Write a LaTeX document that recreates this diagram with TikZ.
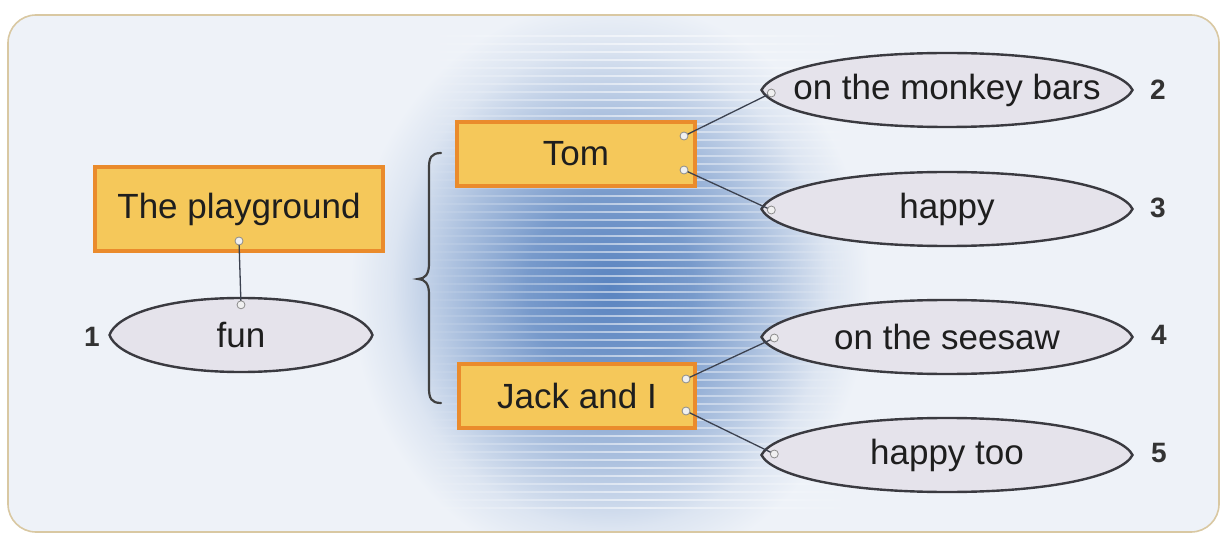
\documentclass[tikz,border=0pt]{standalone}
\usepackage{fontspec}
\setmainfont{Liberation Sans}
\usetikzlibrary{calc,fadings}
\definecolor{bgc}{HTML}{EEF2F8}
\definecolor{glowc}{HTML}{5A84C0}
\definecolor{framec}{HTML}{D9C8A2}
\definecolor{boxfill}{HTML}{F5C85A}
\definecolor{boxedge}{HTML}{EA8B2C}
\definecolor{lensfill}{HTML}{E5E3EB}
\definecolor{lensedge}{HTML}{3A3A40}
\definecolor{linec}{HTML}{3C4250}
\definecolor{numc}{HTML}{333333}
\definecolor{txtc}{HTML}{1E1E1E}
\pgfdeclareradialshading{glow}{\pgfpoint{0bp}{0bp}}{color(0bp)=(glowc);color(8bp)=(glowc!80!bgc);color(15bp)=(glowc!45!bgc);color(21bp)=(glowc!12!bgc);color(25bp)=(bgc);color(50bp)=(bgc)}
\tikzfading[name=fadex, left color=transparent!100, right color=transparent!100, middle color=transparent!0]
\newcommand\lensat[3]{%
  \path[lensline] (#1-#3,#2) .. controls +(0.05*#3,-19) and +(-0.6*#3,0) .. (#1,#2-37)
    .. controls +(0.6*#3,0) and +(-0.05*#3,-19) .. (#1+#3,#2)
    .. controls +(-0.05*#3,19) and +(0.6*#3,0) .. (#1,#2+37)
    .. controls +(-0.6*#3,0) and +(0.05*#3,19) .. cycle;}
\begin{document}
\begin{tikzpicture}[x=1pt,y=-1pt,
  every node/.style={font=\fontsize{35}{40}\selectfont, text=txtc},
  boxnode/.style={rectangle, draw=boxedge, fill=boxfill, line width=4pt, inner sep=0pt},
  lensnode/.style={rectangle, minimum height=74pt, inner sep=0pt},
  lensline/.style={draw=lensedge, fill=lensfill, line width=2.4pt},
  conn/.style={draw=linec, line width=1.3pt},
  dotc/.style={draw=black!45, fill=black!6, line width=0.8pt},
  num/.style={font=\bfseries\fontsize{28}{32}\selectfont, text=numc},
  bracestyle/.style={draw=black!75, line width=2.2pt, line cap=round}]
\useasboundingbox (0,0) rectangle (1223,537);
\fill[white] (0,0) rectangle (1223,537);
% frame and background
\fill[bgc, rounded corners=28pt] (8,15) rectangle (1219,532);
\begin{scope}
  \clip[rounded corners=28pt] (8,15) rectangle (1219,532);
  \shade[shading=glow] (350,0) rectangle (870,575);
  \draw[white, line width=1.6pt, opacity=0.6, path fading=fadex]
    \foreach \yy in {36,44,...,508} {(420,\yy) -- (860,\yy)};
\end{scope}
\draw[framec, line width=1.6pt, rounded corners=28pt] (8,15) rectangle (1219,532);
% brace
\draw[bracestyle] (441,153) .. controls (431,153) and (429,158) .. (429,168) -- (429,264)
  .. controls (429,274) and (425,279) .. (418,279) .. controls (425,279) and (429,284) .. (429,294)
  -- (429,388) .. controls (429,398) and (431,403) .. (441,403);
% boxes
\node[boxnode, minimum width=288pt, minimum height=84pt] (pg) at (239,209) {The playground};
\node[boxnode, minimum width=238pt, minimum height=64pt] (tom) at (576,154) {Tom};
\node[boxnode, minimum width=236pt, minimum height=64pt] (jack) at (577,396) {Jack and I};
% lenses
\lensat{241}{335}{131.5}
\lensat{947}{90}{185.5}
\lensat{947}{209}{185.5}
\lensat{947}{337}{185.5}
\lensat{947}{455}{185.5}
\node[lensnode, minimum width=263pt] (fun) at (241,335) {fun};
\node[lensnode, minimum width=371pt] (e2) at (947,90) {on the monkey bars};
\node[lensnode, minimum width=371pt] (e3) at (947,209) {happy};
\node[lensnode, minimum width=371pt] (e4) at (947,337) {on the seesaw};
\node[lensnode, minimum width=371pt] (e5) at (947,455) {happy too};
% numbers
\node[num] (n1) at (92,337) {1};
\node[num] (n2) at (1158,90) {2};
\node[num] (n3) at (1158,208) {3};
\node[num] (n4) at (1159,335) {4};
\node[num] (n5) at (1159,453) {5};
% connector end points
\coordinate (pgd) at ($(pg.south)+(0,-12)$);
\coordinate (fund) at ($(fun.north)+(0,7)$);
\coordinate (t1) at ($(tom.east)+(-13,-18)$);
\coordinate (t2) at ($(tom.east)+(-13,16)$);
\coordinate (j1) at ($(jack.east)+(-11,-17)$);
\coordinate (j2) at ($(jack.east)+(-11,15)$);
\coordinate (m1) at ($(e2.west)+(10,3)$);
\coordinate (h1) at ($(e3.west)+(10,1)$);
\coordinate (s1) at ($(e4.west)+(13,1)$);
\coordinate (ht1) at ($(e5.west)+(13,-1)$);
\draw[conn] (pgd) -- (fund);
\draw[conn] (t1) -- (m1);
\draw[conn] (t2) -- (h1);
\draw[conn] (j1) -- (s1);
\draw[conn] (j2) -- (ht1);
\foreach \c in {pgd,fund,t1,t2,j1,j2,m1,h1,s1,ht1}
  \draw[dotc] (\c) circle (4pt);
\end{tikzpicture}
\end{document}
